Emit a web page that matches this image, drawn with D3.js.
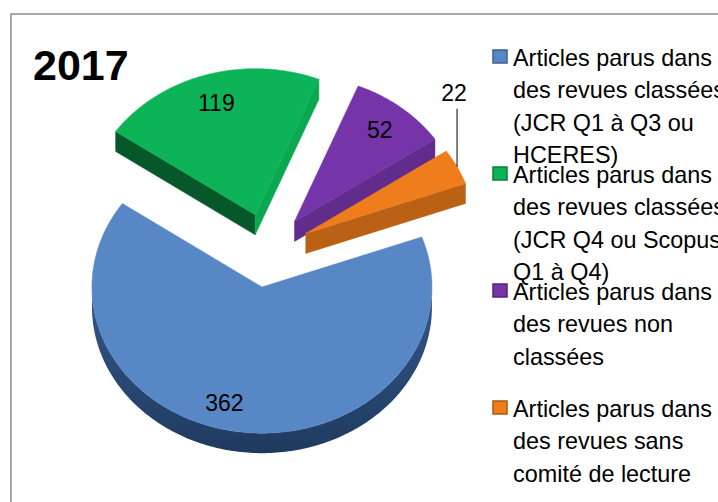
<!DOCTYPE html>
<html>
<head>
<meta charset="utf-8">
<script src="https://cdn.jsdelivr.net/npm/d3@7"></script>
<style>
body { margin: 0; background: #fff; }
svg { display: block; }
text { font-family: "Liberation Sans", Arial, sans-serif; }
</style>
</head>
<body>
<script>
var title = "2017";

var categories = [
    "Articles parus dans des revues classées (JCR Q1 à Q3 ou HCERES)",
    "Articles parus dans des revues classées (JCR Q4 ou Scopus Q1 à Q4)",
    "Articles parus dans des revues non classées",
    "Articles parus dans des revues sans comité de lecture"
];
var values = [362, 119, 52, 22];
var legendLines = [
    ["Articles parus dans", "des revues classées", "(JCR Q1 à Q3 ou", "HCERES)"],
    ["Articles parus dans", "des revues classées", "(JCR Q4 ou Scopus", "Q1 à Q4)"],
    ["Articles parus dans", "des revues non", "classées"],
    ["Articles parus dans", "des revues sans", "comité de lecture"]
];

var colors = ["#5787c5", "#0db457", "#7535a8", "#f07d1c"];

var width = 718,
    height = 502;

var svg = d3.select("body").append("svg")
    .attr("width", width)
    .attr("height", height);

// frame (runs off the right and bottom edges like in the original)
svg.append("rect")
    .attr("x", 11)
    .attr("y", 14)
    .attr("width", 900)
    .attr("height", 700)
    .style("fill", "#fff")
    .style("stroke", "#8c8c8c")
    .style("stroke-width", 1.5);

svg.append("text")
    .attr("x", 33)
    .attr("y", 80)
    .style("font-size", "43px")
    .style("font-weight", "bold")
    .text(title);

// 3d pie settings
var cx = 267.5,
    cy = 250.3,
    R = 170,
    tilt = 0.86,
    depth = 20,
    explode = 43;

var deg = Math.PI / 180;

var pie = d3.pie()
    .sort(null)
    .startAngle(70 * deg)
    .endAngle(70 * deg + 2 * Math.PI);

var arcs = pie(values);

var line = d3.line();

function offsetOf(d) {
    var m = (d.startAngle + d.endAngle) / 2;
    return [explode * Math.sin(m), -explode * Math.cos(m) * tilt];
}

function pt(d, a, r, dz) {
    var o = offsetOf(d);
    return [cx + o[0] + r * Math.sin(a), cy + o[1] - r * Math.cos(a) * tilt + (dz || 0)];
}

function arcPoints(d, a0, a1, dz) {
    var pts = [];
    var n = Math.max(2, Math.ceil(Math.abs(a1 - a0) / (1 * deg)));
    for (var i = 0; i <= n; i++) {
        pts.push(pt(d, a0 + (a1 - a0) * i / n, R, dz));
    }
    return pts;
}

var defs = svg.append("defs");
var wallGrad = defs.append("linearGradient")
    .attr("id", "wall")
    .attr("x1", 0).attr("y1", 0).attr("x2", 0).attr("y2", 1);
wallGrad.append("stop").attr("offset", "0%").attr("stop-color", "#34598a");
wallGrad.append("stop").attr("offset", "100%").attr("stop-color", "#1f3a5f");

// paint back to front
var order = arcs.map(function(d, i) {
    return i;
}).sort(function(a, b) {
    return offsetOf(arcs[a])[1] - offsetOf(arcs[b])[1];
});

var pieG = svg.append("g");

order.forEach(function(i) {
    var d = arcs[i];
    var g = pieG.append("g");
    var base = d3.color(colors[i]);
    var a0 = d.startAngle,
        a1 = d.endAngle;

    // outer wall, front half only
    [0, 1].forEach(function(k) {
        var s = Math.max(a0, Math.PI / 2 + 2 * Math.PI * k),
            e = Math.min(a1, 3 * Math.PI / 2 + 2 * Math.PI * k);
        if (e > s) {
            var pts = arcPoints(d, s, e, 0).concat(arcPoints(d, e, s, depth));
            g.append("path")
                .attr("d", line(pts) + "Z")
                .style("fill", i === 0 ? "url(#wall)" : base.darker(1.2));
        }
    });

    // radial walls, light comes from the right
    function face(a, nx) {
        var c0 = pt(d, a, 0, 0),
            c1 = pt(d, a, R, 0);
        var pts = [c0, c1, [c1[0], c1[1] + depth], [c0[0], c0[1] + depth]];
        var k = nx < 0 ? 2.0 : 1.0 - 0.85 * nx;
        g.append("path")
            .attr("d", line(pts) + "Z")
            .style("fill", base.darker(k))
            .style("stroke", base.darker(k))
            .style("stroke-width", 0.5);
    }
    if (Math.sin(a0) < 0) face(a0, Math.sin(a0 - Math.PI / 2));
    if (Math.sin(a1) > 0) face(a1, Math.sin(a1 + Math.PI / 2));

    // top
    var top = [pt(d, a0, 0, 0)].concat(arcPoints(d, a0, a1, 0));
    g.append("path")
        .attr("d", line(top) + "Z")
        .style("fill", base)
        .style("stroke", base)
        .style("stroke-width", 0.5);
});

// data labels
var labelG = svg.append("g");
arcs.forEach(function(d, i) {
    var m = (d.startAngle + d.endAngle) / 2;
    if ((d.endAngle - d.startAngle) / (2 * Math.PI) < 0.05) {
        var edge = pt(d, m, R, 0);
        labelG.append("line")
            .attr("x1", edge[0]).attr("y1", edge[1])
            .attr("x2", edge[0]).attr("y2", edge[1] - 58)
            .style("stroke", "#000")
            .style("stroke-width", 1);
        labelG.append("text")
            .attr("x", edge[0] - 3)
            .attr("y", edge[1] - 66)
            .attr("text-anchor", "middle")
            .style("font-size", "23px")
            .text(d.data);
    } else {
        var p = pt(d, m, R * 0.8, 0);
        // excel pushes the big slice label a bit to the left
        var shift = i === 0 ? -20 : 0;
        labelG.append("text")
            .attr("x", p[0] + shift)
            .attr("y", p[1] + 8)
            .attr("text-anchor", "middle")
            .style("font-size", "23px")
            .text(d.data);
    }
});

// legend
var legendY = d3.scaleLinear().domain([0, 1]).range([66, 183]);
var lineH = 32.3;

var legend = svg.append("g").selectAll(".legend")
    .data(categories)
    .enter().append("g")
    .attr("class", "legend")
    .attr("transform", function(d, i) {
        return "translate(0," + legendY(i) + ")";
    });

legend.append("rect")
    .attr("x", 493)
    .attr("y", -16)
    .attr("width", 14)
    .attr("height", 13)
    .style("fill", function(d, i) {
        return colors[i];
    })
    .style("stroke", function(d, i) {
        return d3.color(colors[i]).darker(1);
    })
    .style("stroke-width", 1.5);

legend.append("text")
    .attr("x", 513)
    .style("font-size", "23.4px")
    .selectAll("tspan")
    .data(function(d, i) {
        return legendLines[i];
    })
    .enter().append("tspan")
    .attr("x", 513)
    .attr("y", function(t, j) {
        return j * lineH;
    })
    .text(function(t) {
        return t;
    });
</script>
</body>
</html>
